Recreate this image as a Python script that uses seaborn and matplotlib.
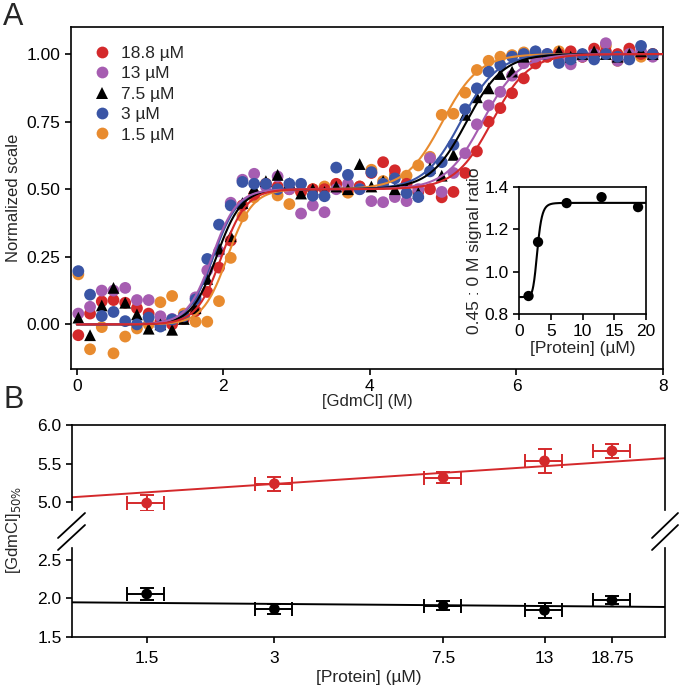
import matplotlib
matplotlib.use("Agg")
import matplotlib.pyplot as plt
from matplotlib.lines import Line2D
from matplotlib.ticker import NullLocator
import seaborn as sns
import numpy as np
import pandas as pd

# ---- panel A: denaturation curves ----
gdmcl = [0.02, 0.18, 0.34, 0.50, 0.66, 0.82, 0.98, 1.14, 1.30, 1.46,
         1.62, 1.78, 1.94, 2.10, 2.26, 2.42, 2.58, 2.74, 2.90, 3.06,
         3.22, 3.38, 3.54, 3.70, 3.86, 4.02, 4.18, 4.34, 4.50, 4.66,
         4.82, 4.98, 5.14, 5.30, 5.46, 5.62, 5.78, 5.94, 6.10, 6.26,
         6.42, 6.58, 6.74, 6.90, 7.06, 7.22, 7.38, 7.54, 7.70, 7.86]

y_188 = [-0.04, 0.04, 0.085, 0.09, 0.08, 0.06, 0.04, 0.01, 0.0, 0.02,
         0.05, 0.12, 0.21, 0.31, 0.44, 0.48, 0.52, 0.51, 0.50, 0.49,
         0.50, 0.50, 0.52, 0.50, 0.51, 0.56, 0.60, 0.57, 0.52, 0.49,
         0.50, 0.47, 0.49, 0.56, 0.64, 0.75, 0.80, 0.855, 0.91, 0.965,
         0.99, 1.00, 1.01, 0.99, 1.02, 1.01, 1.00, 1.02, 1.00, 1.00]
y_13 = [0.04, 0.065, 0.125, 0.125, 0.135, 0.09, 0.09, 0.03, 0.02, 0.03,
        0.10, 0.20, 0.27, 0.45, 0.535, 0.557, 0.51, 0.547, 0.50, 0.41,
        0.44, 0.415, 0.50, 0.52, 0.50, 0.456, 0.452, 0.471, 0.456, 0.50,
        0.615, 0.49, 0.56, 0.633, 0.74, 0.81, 0.86, 0.92, 0.966, 0.99,
        1.00, 0.98, 0.962, 0.99, 1.00, 1.04, 0.975, 1.00, 1.01, 0.99]
y_75 = [0.025, -0.04, 0.07, 0.135, 0.08, 0.037, -0.016, 0.0, -0.02, 0.02,
        0.06, 0.168, 0.28, 0.326, 0.449, 0.504, 0.53, 0.553, 0.523, 0.484,
        0.50, 0.49, 0.51, 0.50, 0.593, 0.51, 0.53, 0.50, 0.502, 0.486,
        0.578, 0.55, 0.627, 0.775, 0.84, 0.873, 0.926, 0.935, 0.99, 1.01,
        1.0, 1.01, 0.99, 1.0, 1.01, 1.0, 0.99, 1.0, 1.01, 1.0]
y_3 = [0.197, 0.11, 0.031, 0.046, 0.012, 0.0, 0.025, -0.008, 0.018, 0.03,
       0.092, 0.242, 0.369, 0.44, 0.527, 0.52, 0.52, 0.50, 0.52, 0.52,
       0.476, 0.474, 0.58, 0.553, 0.50, 0.563, 0.52, 0.54, 0.486, 0.471,
       0.566, 0.60, 0.664, 0.796, 0.873, 0.935, 0.959, 0.99, 1.0, 1.01,
       1.0, 0.967, 0.98, 1.0, 0.98, 1.0, 0.99, 0.98, 1.03, 1.0]
y_15 = [0.185, -0.092, -0.01, -0.107, -0.045, -0.015, 0.0, 0.082, 0.105, 0.04,
        0.01, 0.01, 0.086, 0.246, 0.40, 0.47, 0.52, 0.477, 0.445, 0.49,
        0.50, 0.51, 0.518, 0.487, 0.51, 0.572, 0.53, 0.553, 0.55, 0.588,
        0.62, 0.775, 0.779, 0.857, 0.941, 0.975, 0.99, 0.996, 1.006, 1.0,
        0.99, 1.01, 1.0, 0.99, 1.0, 1.03, 0.975, 1.01, 0.99, 1.0]

labels = ["18.8 µM", "13 µM", "7.5 µM", "3 µM", "1.5 µM"]
colors = ["#d4292b", "#a65db1", "#000000", "#3a55a5", "#e88b2f"]
markers = ["o", "o", "^", "o", "o"]
series = [y_188, y_13, y_75, y_3, y_15]
# fitted midpoints of the two transitions (M)
mid1 = [1.974, 1.845, 1.905, 1.862, 2.056]
mid2 = [5.665, 5.535, 5.32, 5.24, 4.99]
width1, width2 = 0.17, 0.25

# inset: signal ratio vs protein
ratio_protein = [1.5, 3, 7.5, 13, 18.75]
ratio = [0.885, 1.14, 1.324, 1.352, 1.305]
ratio_low, ratio_high, ratio_k, ratio_n = 0.88, 1.325, 2.9, 8

# ---- panel B: midpoints ----
protein = [1.5, 3, 7.5, 13, 18.75]
protein_err = [0.15, 0.3, 0.75, 1.3, 1.875]
mid_hi = [4.99, 5.24, 5.32, 5.535, 5.665]
mid_hi_err = [0.10, 0.09, 0.07, 0.15, 0.09]
mid_lo = [2.056, 1.862, 1.905, 1.845, 1.974]
mid_lo_err = [0.076, 0.065, 0.054, 0.10, 0.05]
fit_x = [1, 25]
fit_hi = [5.065, 5.57]
fit_lo = [1.948, 1.888]
protein_ticks = ["1.5", "3", "7.5", "13", "18.75"]

sns.set_style("ticks")
FONT = ["Liberation Sans", "DejaVu Sans"]
plt.rcParams["font.family"] = FONT
plt.rcParams["axes.linewidth"] = 1.2
plt.rcParams["xtick.major.width"] = 1.2
plt.rcParams["ytick.major.width"] = 1.2
plt.rcParams["xtick.major.size"] = 4
plt.rcParams["ytick.major.size"] = 4
plt.rcParams["xtick.color"] = "black"
plt.rcParams["ytick.color"] = "black"
plt.rcParams["axes.edgecolor"] = "black"

W, H = 680, 689
fig = plt.figure(figsize=(6.8, 6.89), dpi=100)

def box(l, t, r, b):
    return [l / W, 1 - b / H, (r - l) / W, (b - t) / H]

# panel A
ax = fig.add_axes(box(71, 27, 663, 369))
rows = []
draw_order = [4, 0, 1, 2, 3]
for i in draw_order:
    for x, y in zip(gdmcl, series[i]):
        rows.append({"gdmcl": x, "signal": y, "sample": labels[i]})
df = pd.DataFrame(rows)
sns.scatterplot(data=df, x="gdmcl", y="signal", hue="sample", style="sample",
                hue_order=labels, style_order=labels,
                palette=dict(zip(labels, colors)), markers=dict(zip(labels, markers)),
                s=72, edgecolor="none", linewidth=0, ax=ax, zorder=2)

xs = np.linspace(0, 8, 400)
for i in [4, 3, 2, 1, 0]:
    curve = 0.5 / (1 + np.exp(-(xs - mid1[i]) / width1)) + 0.5 / (1 + np.exp(-(xs - mid2[i]) / width2))
    ax.plot(xs, curve, color=colors[i], lw=1.5, zorder=3)

handles, lbls = ax.get_legend_handles_labels()
keep = [(h, l) for h, l in zip(handles, lbls) if l in labels]
ax.legend([h for h, l in keep], [l for h, l in keep], loc="upper left",
          bbox_to_anchor=(0.02, 0.975), frameon=False, fontsize=12.5,
          handlelength=1.0, handletextpad=0.6, labelspacing=0.3, borderaxespad=0.2)

ax.set_xlim(-0.08, 8)
ax.set_ylim(-0.165, 1.1)
ax.set_xticks([0, 2, 4, 6, 8])
ax.set_yticks([0, 0.25, 0.5, 0.75, 1.0])
ax.set_yticklabels(["0.00", "0.25", "0.50", "0.75", "1.00"])
ax.tick_params(labelsize=12.5)
ax.set_xlabel("[GdmCl] (M)", fontsize=12, labelpad=0)
ax.set_ylabel("Normalized scale", fontsize=12, labelpad=4)

# inset
axi = fig.add_axes(box(519, 187, 646, 314))
axi.set_facecolor("white")
px = np.linspace(0, 20, 400)
fit_ratio = ratio_low + (ratio_high - ratio_low) * px ** ratio_n / (ratio_k ** ratio_n + px ** ratio_n)
axi.plot(px, fit_ratio, color="black", lw=1.5)
sns.scatterplot(x=ratio_protein, y=ratio, color="black", s=55, edgecolor="none", ax=axi, zorder=3)
axi.set_xlim(0, 20)
axi.set_ylim(0.8, 1.4)
axi.set_xticks([0, 5, 10, 15, 20])
axi.set_yticks([0.8, 1.0, 1.2, 1.4])
axi.set_yticklabels(["0.8", "1.0", "1.2", "1.4"])
axi.tick_params(labelsize=12.5)
axi.set_xlabel("[Protein] (µM)", fontsize=12.5, labelpad=1)
axi.set_ylabel("0.45 : 0 M signal ratio", fontsize=12.5, labelpad=2)

# panel B (broken axis)
ax_hi = fig.add_axes(box(72, 425, 665, 510))
ax_lo = fig.add_axes(box(72, 548, 665, 637))
red, black = colors[0], "black"
for a, ym, ye, fy, c in [(ax_hi, mid_hi, mid_hi_err, fit_hi, red),
                         (ax_lo, mid_lo, mid_lo_err, fit_lo, black)]:
    a.set_xscale("log")
    sns.lineplot(x=fit_x, y=fy, color=c, lw=1.4, ax=a, legend=False, zorder=2)
    a.errorbar(protein, ym, xerr=protein_err, yerr=ye, fmt="none", ecolor=c,
               elinewidth=1.4, capsize=5, capthick=1.4, zorder=3)
    sns.scatterplot(x=protein, y=ym, color=c, s=60, edgecolor="none", ax=a, zorder=4)
    a.set_xlim(1, 25)
    a.xaxis.set_minor_locator(NullLocator())
    a.tick_params(labelsize=12.5)

ax_hi.set_ylim(4.9, 6.0)
ax_hi.set_yticks([5.0, 5.5, 6.0])
ax_hi.set_yticklabels(["5.0", "5.5", "6.0"])
ax_hi.spines["bottom"].set_visible(False)
ax_hi.tick_params(axis="x", bottom=False, labelbottom=False)

ax_lo.set_ylim(1.5, 2.65)
ax_lo.set_yticks([1.5, 2.0, 2.5])
ax_lo.set_yticklabels(["1.5", "2.0", "2.5"])
ax_lo.spines["top"].set_visible(False)
ax_lo.set_xticks(protein)
ax_lo.set_xticklabels(protein_ticks, fontfamily=FONT, fontsize=12.5)
ax_lo.tick_params(axis="x", pad=6)
ax_lo.set_xlabel("[Protein] (µM)", fontsize=12.5, labelpad=3)

# break marks
for x0, x1 in [(58, 85), (652, 678)]:
    for y0, y1 in [(538, 513), (550, 525)]:
        fig.add_artist(Line2D([x0 / W, x1 / W], [1 - y0 / H, 1 - y1 / H],
                              transform=fig.transFigure, color="black", lw=1.3))

fig.text(14 / W, 1 - 530 / H, "[GdmCl]$_{50\\%}$", rotation=90, fontsize=12,
         ha="center", va="center")
fig.text(3 / W, 1 - 2 / H, "A", fontsize=22, ha="left", va="top")
fig.text(3 / W, 1 - 385 / H, "B", fontsize=22, ha="left", va="top")

fig.savefig("out.png", dpi=100)
